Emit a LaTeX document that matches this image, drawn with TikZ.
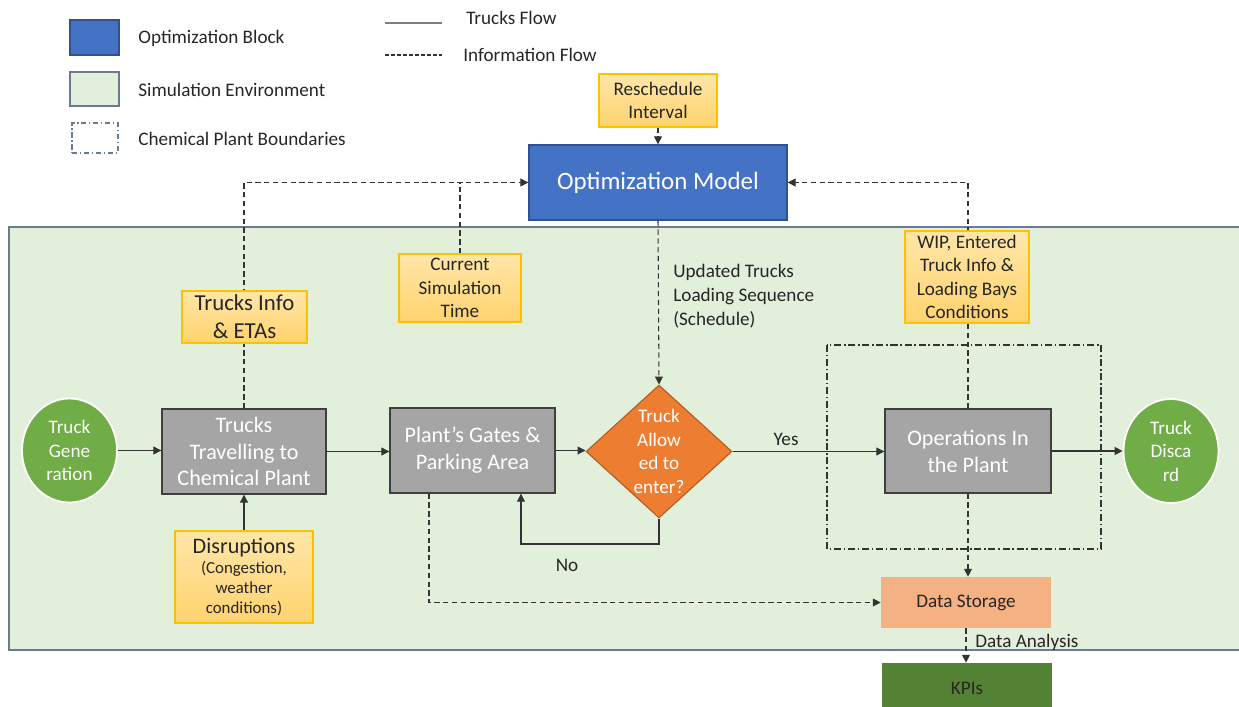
\documentclass[tikz,border=0pt]{standalone}
\usepackage{fontspec}
\setmainfont{Carlito}
\usetikzlibrary{arrows.meta,shapes.geometric,calc}

\definecolor{optblue}{HTML}{4472C4}
\definecolor{optedge}{HTML}{2F528F}
\definecolor{simfill}{HTML}{E2EFDA}
\definecolor{simedge}{HTML}{6B7B93}
\definecolor{notetop}{HTML}{FFE6A8}
\definecolor{notebot}{HTML}{FFD36E}
\definecolor{noteedge}{HTML}{FFC000}
\definecolor{procfill}{HTML}{A5A5A5}
\definecolor{procedge}{HTML}{3F3F3F}
\definecolor{decfill}{HTML}{ED7D31}
\definecolor{decedge}{HTML}{AE5A21}
\definecolor{termfill}{HTML}{70AD47}
\definecolor{storefill}{HTML}{F4B183}
\definecolor{kpifill}{HTML}{548235}
\definecolor{ink}{HTML}{262626}
\definecolor{wire}{HTML}{333333}
\definecolor{leggray}{HTML}{7F7F7F}

\newcommand\fsTiny{\fontsize{9.6}{11.3}\selectfont}
\newcommand\fsSmall{\fontsize{10.9}{13.4}\selectfont}
\newcommand\fsMid{\fontsize{12.6}{15.3}\selectfont}
\newcommand\fsInfo{\fontsize{13}{15.9}\selectfont}
\newcommand\fsBig{\fontsize{14.2}{17}\selectfont}

\pgfdeclarelayer{back}
\pgfdeclarelayer{wires}
\pgfsetlayers{back,wires,main}

\begin{document}
\begin{tikzpicture}[x=0.02cm,y=-0.02cm,
  box/.style={rectangle, inner sep=0pt, align=center},
  proc/.style={box, fill=procfill, draw=procedge, line width=0.8pt, text=white, font=\fsMid},
  note/.style={box, top color=notetop, bottom color=notebot, draw=noteedge, line width=0.8pt, text=ink, font=\fsSmall},
  term/.style={ellipse, inner sep=0pt, fill=termfill, draw=white, line width=1pt, text=white, font=\fsSmall, align=center, minimum width=1.9cm, minimum height=2.08cm},
  lbl/.style={inner sep=0pt, text=ink, font=\fsSmall},
  legsq/.style={rectangle, inner sep=0pt, line width=0.8pt},
  flow/.style={draw=wire, line width=0.6pt, -{Triangle[length=4.5pt,width=4.5pt]}},
  infoflow/.style={flow, dash pattern=on 3pt off 2pt},
  infoline/.style={draw=wire, line width=0.6pt, dash pattern=on 3pt off 2pt},
  plantline/.style={draw=wire, line width=0.6pt, dash pattern=on 4pt off 1.6pt on 0.8pt off 1.6pt}]
\clip (0,0) rectangle (1239,706);
\useasboundingbox (0,0) rectangle (1239,706);

% ---------- legend ----------
\node[legsq, fill=optblue, draw=optedge, minimum width=0.98cm, minimum height=0.7cm] (lgopt) at (94.5,37.5) {};
\node[lbl, anchor=west] (lgopttxt) at (138,38) {Optimization Block};
\node[legsq, fill=simfill, draw=simedge, minimum width=0.98cm, minimum height=0.68cm] (lgsim) at (94.5,89) {};
\node[lbl, anchor=west] (lgsimtxt) at (138,90) {Simulation Environment};
\node[legsq, draw=simedge, line width=0.6pt, dash pattern=on 3pt off 1.5pt on 0.8pt off 1.5pt, minimum width=0.92cm, minimum height=0.6cm] (lgplant) at (95,138) {};
\node[lbl, anchor=west] (lgplanttxt) at (138,139) {Chemical Plant Boundaries};

\coordinate (ls1) at (385,23);
\coordinate (ls2) at (442,23);
\coordinate (li1) at (385,55);
\coordinate (li2) at (442,55);
\draw[leggray, line width=1.3pt] (ls1) -- (ls2);
\draw[wire, line width=0.6pt, dash pattern=on 2.2pt off 1.2pt] (li1) -- (li2);
\node[lbl, anchor=west] (lgtruck) at (466,18) {Trucks Flow};
\node[lbl, anchor=west] (lginfo) at (463,55) {Information Flow};

% ---------- simulation environment ----------
\begin{pgfonlayer}{back}
  \draw[fill=simfill, draw=simedge, line width=0.8pt] (9,227) rectangle (1270,650);
\end{pgfonlayer}

% ---------- blocks ----------
\node[box, fill=optblue, draw=optedge, line width=0.8pt, text=white, font=\fsBig,
      minimum width=5.16cm, minimum height=1.5cm] (opt) at (658,182.5) {Optimization Model};
\node[note, minimum width=2.36cm, minimum height=1.06cm] (resch) at (658,100.5) {Reschedule\\Interval};

\node[term] (tgen) at (69.5,450.5) {Truck\\Gene\\ration};
\node[proc, minimum width=3.28cm, minimum height=1.7cm] (travel) at (244,451.5) {Trucks\\Travelling to\\Chemical Plant};
\node[note, font=\fsInfo, minimum width=2.5cm, minimum height=1.04cm] (info) at (244.5,317) {Trucks Info\\\& ETAs};
\node[note, font=\fsTiny, minimum width=2.76cm, minimum height=1.84cm] (disr) at (244,577)
  {{\fsMid Disruptions}\\(Congestion,\\weather\\conditions)};
\node[note, minimum width=2.44cm, minimum height=1.36cm] (cur) at (460,288) {Current\\Simulation\\Time};
\node[proc, minimum width=3.3cm, minimum height=1.7cm] (gates) at (472.5,450.5) {Plant’s Gates \&\\Parking Area};

\node[diamond, inner sep=0pt, fill=decfill, draw=decedge, line width=0.6pt,
      minimum width=2.92cm, minimum height=2.66cm,
      label={[text=white, font=\fsSmall, align=center]center:Truck\\Allow\\ed to\\enter?}] (dec) at (659,451.5) {};

\node[proc, minimum width=3.32cm, minimum height=1.68cm] (ops) at (968,451) {Operations In\\the Plant};
\node[term] (disc) at (1171,451) {Truck\\Disca\\rd};
\node[note, minimum width=2.48cm, minimum height=1.84cm] (wip) at (967,277) {WIP, Entered\\Truck Info \&\\Loading Bays\\Conditions};

\node[box, fill=storefill, text=ink, font=\fsSmall, minimum width=3.4cm, minimum height=1.02cm] (store) at (966,602.5) {Data Storage};
\node[box, fill=kpifill, text=ink, font=\fsSmall, minimum width=3.4cm, minimum height=1.0cm] (kpi) at (967,688) {KPIs};

% ---------- plant boundary ----------
\begin{pgfonlayer}{wires}
  \draw[plantline] (827,345) rectangle (1101,549);
\end{pgfonlayer}

% ---------- connectors ----------
\coordinate (noturn) at (521,544);
\begin{pgfonlayer}{wires}
  % trucks flow
  \draw[flow] (tgen.east) -- (tgen.east -| travel.west);
  \draw[flow] (travel.east) -- (travel.east -| gates.west);
  \draw[flow] (gates.east) -- (gates.east -| dec.west);
  \draw[flow] (dec.east) -- (dec.east -| ops.west);
  \draw[flow] (ops.east) -- (ops.east -| disc.west);
  \draw[flow] (disr.north) -- (travel.south);
  \draw[flow] (dec.south) |- (noturn) -- (noturn |- gates.south);
  % information flow
  \draw[infoflow] (travel.north) |- (opt.west);
  \draw[infoline] (cur.north) -- (cur.north |- opt.west);
  \draw[infoflow] (resch.south) -- (opt.north);
  \draw[infoflow] (opt.south) -- (dec.north);
  \draw[infoflow] (ops.north) |- (opt.east);
  \draw[infoflow] (ops.south) -- (ops.south |- store.north);
  \draw[infoflow] ([xshift=-0.87cm]gates.south) |- (store.west);
  \draw[infoflow] (store.south) -- (store.south |- kpi.north);
\end{pgfonlayer}

% ---------- connector labels ----------
\node[lbl] (yes) at (786,439) {Yes};
\node[lbl] (no) at (567,565) {No};
\node[lbl, anchor=west, align=left, font=\fontsize{10.9}{13.6}\selectfont] (sched) at (673,296.5) {Updated Trucks\\Loading Sequence\\(Schedule)};
\node[lbl, anchor=west] (analysis) at (975,642) {Data Analysis};
\end{tikzpicture}
\end{document}
